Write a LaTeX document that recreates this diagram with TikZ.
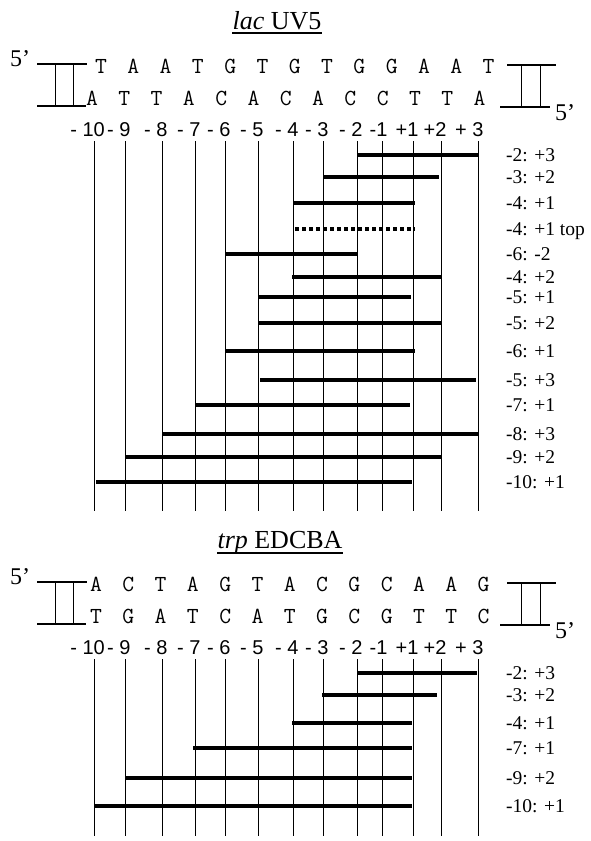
\documentclass[tikz,border=0pt]{standalone}
\usepackage{fontspec}
\setmainfont{Liberation Serif}
\newfontfamily\numfont{Liberation Sans}
\begin{document}
\begin{tikzpicture}[x=1pt,y=-1pt,
  titletxt/.style={anchor=base, inner sep=0pt, font=\fontsize{26}{30}\selectfont},
  seq/.style={anchor=base, inner sep=0pt, font=\ttfamily\fontsize{23}{25}\selectfont},
  num/.style={anchor=base east, inner sep=0pt, font=\numfont\fontsize{20}{22}\selectfont},
  lab/.style={anchor=base west, inner sep=0pt, font=\fontsize{19.5}{22}\selectfont},
  prime/.style={anchor=base west, inner sep=0pt, font=\fontsize{24}{28}\selectfont},
  grid/.style={line width=1pt},
  bar/.style={line width=3.5pt},
  dotbar/.style={line width=3.3pt, dash pattern=on 4pt off 3pt},
  ladder/.style={line width=2pt},
  uline/.style={line width=1.3pt}]
\fill[white] (0,0) rectangle (591,841);
\useasboundingbox (0,0) rectangle (591,841);

% ================= lac UV5 =================
\node[titletxt] (lac) at (277,29) {\textit{lac} UV5};
\draw[uline] ([yshift=-4pt]lac.base west) -- ([yshift=-4pt]lac.base east);

% left ladder
\coordinate (LA1) at (37,64); \coordinate (LA2) at (87,64);
\coordinate (LA3) at (37,106); \coordinate (LA4) at (86,106);
\coordinate (LA5) at (55,64); \coordinate (LA6) at (55,106);
\coordinate (LA7) at (73,64); \coordinate (LA8) at (73,106);
\draw[ladder] (LA1) -- (LA2); \draw[ladder] (LA3) -- (LA4);
\draw[grid] (LA5) -- (LA6); \draw[grid] (LA7) -- (LA8);
\node[prime] (p1) at (10,66) {5’};
% right ladder
\coordinate (RA1) at (507,65); \coordinate (RA2) at (556,65);
\coordinate (RA3) at (500,107); \coordinate (RA4) at (550,107);
\coordinate (RA5) at (521,65); \coordinate (RA6) at (521,107);
\coordinate (RA7) at (540,65); \coordinate (RA8) at (540,107);
\draw[ladder] (RA1) -- (RA2); \draw[ladder] (RA3) -- (RA4);
\draw[grid] (RA5) -- (RA6); \draw[grid] (RA7) -- (RA8);
\node[prime] (p2) at (555,120) {5’};

\foreach \c [count=\i] in {T,A,A,T,G,T,G,T,G,G,A,A,T}
  \node[seq] (ta\i) at ({101+32.3*(\i-1)},73) {\c};
\foreach \c [count=\i] in {A,T,T,A,C,A,C,A,C,C,T,T,A}
  \node[seq] (ba\i) at ({92+32.3*(\i-1)},105) {\c};

\foreach \x/\t/\o [count=\i] in {94/{- 10}/11,125/{- 9}/5.6,162/{- 8}/5.6,195/{- 7}/5.6,225/{- 6}/5.6,258/{- 5}/5.6,293/{- 4}/5.6,323/{- 3}/5.6,357/{- 2}/5.6,382/{-1}/5.6,413/{+1}/5.6,441/{+2}/5.6,478/{+ 3}/5.6}{
  \node[num] (na\i) at (\x+\o,136) {\t};
  \coordinate (va\i) at (\x,141); \coordinate (wa\i) at (\x,511);
  \draw[grid] (va\i) -- (wa\i);
}

\foreach \y/\a/\b/\t [count=\i] in {155/357/478/{-2: +3},177/323/439/{-3: +2},203/293/415/{-4: +1},254/225/357/{-6: -2},277/292/441/{-4: +2},297/258/411/{-5: +1},323/258/441/{-5: +2},351/226/415/{-6: +1},380/260/476/{-5: +3},405/195/410/{-7: +1},434/162/478/{-8: +3},457/125/441/{-9: +2},482/96/412/{-10: +1}}{
  \coordinate (sa\i) at (\a,\y); \coordinate (ea\i) at (\b,\y);
  \draw[bar] (sa\i) -- (ea\i);
  \node[lab] (la\i) at (506,\y+6) {\t};
}
\coordinate (sdot) at (295,229); \coordinate (edot) at (415,229);
\draw[dotbar] (sdot) -- (edot);
\node[lab] (ldot) at (506,235) {-4: +1 top};

% ================= trp EDCBA =================
\node[titletxt] (trp) at (280,548) {\textit{trp} EDCBA};
\draw[uline] ([yshift=-5pt]trp.base west) -- ([yshift=-5pt]trp.base east);

\coordinate (LB1) at (37,582); \coordinate (LB2) at (87,582);
\coordinate (LB3) at (37,624); \coordinate (LB4) at (86,624);
\coordinate (LB5) at (55,582); \coordinate (LB6) at (55,624);
\coordinate (LB7) at (73,582); \coordinate (LB8) at (73,624);
\draw[ladder] (LB1) -- (LB2); \draw[ladder] (LB3) -- (LB4);
\draw[grid] (LB5) -- (LB6); \draw[grid] (LB7) -- (LB8);
\node[prime] (p3) at (10,584) {5’};
\coordinate (RB1) at (507,583); \coordinate (RB2) at (556,583);
\coordinate (RB3) at (500,625); \coordinate (RB4) at (550,625);
\coordinate (RB5) at (521,583); \coordinate (RB6) at (521,625);
\coordinate (RB7) at (540,583); \coordinate (RB8) at (540,625);
\draw[ladder] (RB1) -- (RB2); \draw[ladder] (RB3) -- (RB4);
\draw[grid] (RB5) -- (RB6); \draw[grid] (RB7) -- (RB8);
\node[prime] (p4) at (555,638) {5’};

\foreach \c [count=\i] in {A,C,T,A,G,T,A,C,G,C,A,A,G}
  \node[seq] (tb\i) at ({96+32.3*(\i-1)},591) {\c};
\foreach \c [count=\i] in {T,G,A,T,C,A,T,G,C,G,T,T,C}
  \node[seq] (bb\i) at ({96+32.3*(\i-1)},623) {\c};

\foreach \x/\t/\o [count=\i] in {94/{- 10}/11,125/{- 9}/5.6,162/{- 8}/5.6,195/{- 7}/5.6,225/{- 6}/5.6,258/{- 5}/5.6,293/{- 4}/5.6,323/{- 3}/5.6,357/{- 2}/5.6,382/{-1}/5.6,413/{+1}/5.6,441/{+2}/5.6,478/{+ 3}/5.6}{
  \node[num] (nb\i) at (\x+\o,654) {\t};
  \coordinate (vb\i) at (\x,659); \coordinate (wb\i) at (\x,836);
  \draw[grid] (vb\i) -- (wb\i);
}

\foreach \y/\a/\b/\t [count=\i] in {673/357/477/{-2: +3},695/322/437/{-3: +2},723/292/412/{-4: +1},748/193/412/{-7: +1},778/126/412/{-9: +2},806/95/412/{-10: +1}}{
  \coordinate (sb\i) at (\a,\y); \coordinate (eb\i) at (\b,\y);
  \draw[bar] (sb\i) -- (eb\i);
  \node[lab] (lb\i) at (506,\y+6) {\t};
}
\end{tikzpicture}
\end{document}
